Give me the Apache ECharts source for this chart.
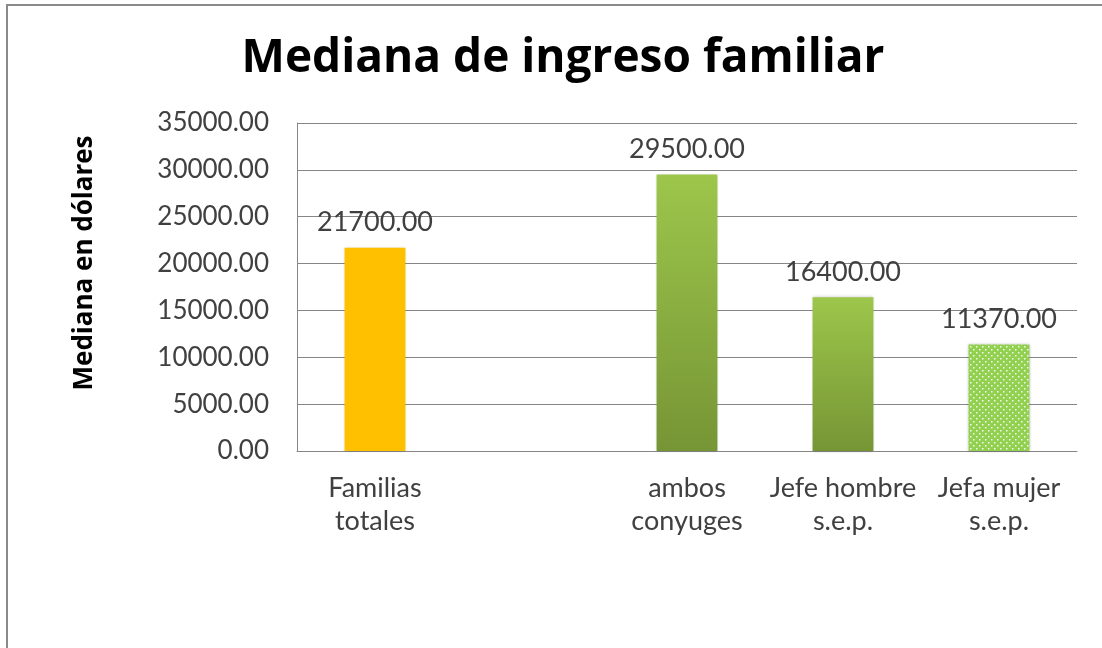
<!DOCTYPE html>
<html><head><meta charset="utf-8">
<script src="https://cdn.jsdelivr.net/npm/echarts@6/dist/echarts.min.js"></script>
<style>html,body{margin:0;padding:0;background:#fff}#c{width:1102px;height:648px}</style>
</head><body><div id="c"></div>
<script>
const categories = ['Familias\ntotales', '', 'ambos\nconyuges', 'Jefe hombre\ns.e.p.', 'Jefa mujer\ns.e.p.'];
const values = [21700, null, 29500, 16400, 11370];
const yTicks = [0, 5000, 10000, 15000, 20000, 25000, 30000, 35000];

function dotPattern() {
  const c = document.createElement('canvas');
  c.width = 6; c.height = 6;
  const g = c.getContext('2d');
  g.fillStyle = '#92D050'; g.fillRect(0, 0, 6, 6);
  g.fillStyle = 'rgba(255,255,255,0.9)';
  g.fillRect(1, 1, 1.5, 1.5);
  g.fillRect(4, 4, 1.5, 1.5);
  return { image: c, repeat: 'repeat' };
}
const greenGrad = { type: 'linear', x: 0, y: 0, x2: 0, y2: 1,
  colorStops: [{ offset: 0, color: '#9DC64B' }, { offset: 1, color: '#769535' }] };
const styles = [
  { color: '#FFC000' }, {},
  { color: greenGrad }, { color: greenGrad }, { color: dotPattern() }
];

const chart = echarts.init(document.getElementById('c'), null, { renderer: 'canvas' });
chart.setOption({
  animation: false,
  backgroundColor: '#fff',
  graphic: [{ type: 'rect', shape: { x: 7, y: 5, width: 1200, height: 800 },
    style: { fill: 'none', stroke: '#8a8a8a', lineWidth: 2 }, z: 100 }],
  title: { text: 'Mediana de ingreso familiar', left: 558, top: 31, textAlign: 'center',
    textStyle: { fontFamily: 'Open Sans', fontWeight: 'bold', fontSize: 46, color: '#000' } },
  grid: { left: 297, right: 25, top: 123, bottom: 197, containLabel: false },
  xAxis: { type: 'category', data: categories,
    axisLine: { lineStyle: { color: '#868686' } }, axisTick: { show: false },
    axisLabel: { color: '#404040', fontFamily: 'Lato', fontSize: 27, lineHeight: 33, margin: 21, interval: 0 } },
  yAxis: { type: 'value', min: 0, max: 35000, interval: 5000,
    name: 'Mediana en dólares', nameLocation: 'middle', nameGap: 199, nameRotate: 90,
    nameTextStyle: { fontFamily: 'Open Sans', fontWeight: 'bold', fontSize: 26, color: '#000', padding: [0, 0, 0, 48] },
    axisLine: { show: true, lineStyle: { color: '#868686' } }, axisTick: { show: false },
    splitLine: { lineStyle: { color: '#868686', width: 1 } },
    axisLabel: { color: '#404040', fontFamily: 'Lato', fontSize: 26, margin: 28,
      formatter: v => yTicks.includes(v) ? v.toFixed(2) : '' } },
  series: [{ type: 'bar', barWidth: '39%',
    data: values.map((v, i) => ({ value: v, itemStyle: Object.assign({ shadowColor: 'rgba(0,0,0,0.25)', shadowBlur: 3 }, styles[i]) })),
    label: { show: true, position: 'top', distance: 12, color: '#404040', fontFamily: 'Lato', fontSize: 27,
      formatter: p => p.value == null ? '' : Number(p.value).toFixed(2) } }]
});
</script></body></html>
